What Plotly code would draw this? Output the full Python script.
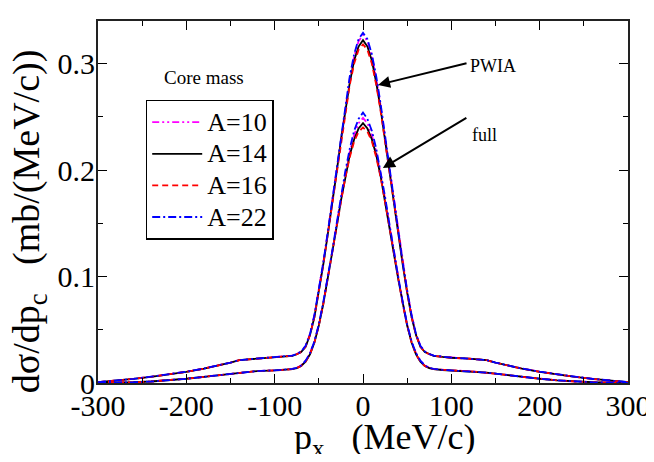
import plotly.graph_objects as go

# half-profile momentum grid (MeV/c), distribution is symmetric about 0
px_half = [0, 5, 10, 15, 20, 25, 30, 35, 40, 45, 50, 55, 60, 65, 70, 75, 80, 90,
           100, 120, 140, 150, 160, 180, 200, 220, 240, 260, 280, 300]

# PWIA curves (mb/(MeV/c))
pwia_A10 = [0.327, 0.321, 0.307, 0.286, 0.260, 0.231, 0.200, 0.170, 0.141, 0.113, 0.087, 0.064, 0.046, 0.035,
            0.0295, 0.0272, 0.0258, 0.0246, 0.0238, 0.0228, 0.0215, 0.0192, 0.0171, 0.0136, 0.0106, 0.0081,
            0.0059, 0.0039, 0.0021, 0.0008]
pwia_A14 = [0.322, 0.316, 0.303, 0.282, 0.257, 0.228, 0.197, 0.167, 0.139, 0.111, 0.085, 0.062, 0.045, 0.034,
            0.0290, 0.0270, 0.0255, 0.0245, 0.0237, 0.0228, 0.0215, 0.0191, 0.0170, 0.0135, 0.0105, 0.0080,
            0.0058, 0.0038, 0.0020, 0.0008]
pwia_A16 = [0.318, 0.313, 0.300, 0.280, 0.255, 0.227, 0.197, 0.167, 0.139, 0.111, 0.085, 0.062, 0.045, 0.034,
            0.0290, 0.0270, 0.0255, 0.0245, 0.0237, 0.0228, 0.0215, 0.0191, 0.0170, 0.0135, 0.0105, 0.0080,
            0.0058, 0.0038, 0.0020, 0.0008]
pwia_A22 = [0.329, 0.323, 0.309, 0.288, 0.262, 0.232, 0.201, 0.170, 0.141, 0.113, 0.087, 0.064, 0.046, 0.035,
            0.0295, 0.0272, 0.0258, 0.0246, 0.0238, 0.0228, 0.0215, 0.0192, 0.0171, 0.0136, 0.0106, 0.0081,
            0.0059, 0.0039, 0.0021, 0.0008]

# full calculation curves
full_A10 = [0.249, 0.244, 0.233, 0.217, 0.197, 0.173, 0.148, 0.122, 0.098, 0.075, 0.055, 0.039, 0.028, 0.021,
            0.0165, 0.0143, 0.0132, 0.0123, 0.0119, 0.0112, 0.0098, 0.0088, 0.0078, 0.0058, 0.0040, 0.0025,
            0.0014, 0.0007, 0.0003, 0.0001]
full_A14 = [0.244, 0.239, 0.229, 0.214, 0.194, 0.171, 0.146, 0.121, 0.097, 0.074, 0.054, 0.038, 0.027, 0.020,
            0.0160, 0.0140, 0.0130, 0.0122, 0.0118, 0.0112, 0.0098, 0.0088, 0.0078, 0.0058, 0.0040, 0.0025,
            0.0014, 0.0007, 0.0003, 0.0001]
full_A16 = [0.240, 0.236, 0.227, 0.212, 0.193, 0.170, 0.146, 0.121, 0.097, 0.074, 0.054, 0.038, 0.027, 0.020,
            0.0160, 0.0140, 0.0130, 0.0122, 0.0118, 0.0112, 0.0098, 0.0088, 0.0078, 0.0058, 0.0040, 0.0025,
            0.0014, 0.0007, 0.0003, 0.0001]
full_A22 = [0.254, 0.248, 0.237, 0.220, 0.199, 0.175, 0.149, 0.123, 0.099, 0.076, 0.055, 0.039, 0.028, 0.021,
            0.0165, 0.0143, 0.0132, 0.0123, 0.0119, 0.0112, 0.0098, 0.0088, 0.0078, 0.0058, 0.0040, 0.0025,
            0.0014, 0.0007, 0.0003, 0.0001]

labels = ["A=10", "A=14", "A=16", "A=22"]
x_ticks = [-300, -200, -100, 0, 100, 200, 300]
y_ticks = [0, 0.1, 0.2, 0.3]


def mirror(xs, ys):
    xf = [-v for v in xs[:0:-1]] + xs
    yf = ys[:0:-1] + ys
    return xf, yf


styles = [
    dict(color="#ff00ff", dash="7px,3px,2px,3px,2px,3px", width=1.8),
    dict(color="black", dash="solid", width=1.8),
    dict(color="#ff0000", dash="6px,4px", width=1.8),
    dict(color="#0000ff", dash="8px,3px,2px,3px", width=1.8),
]

fig = go.Figure()
for lab, st, pw, fu in zip(labels, styles,
                           [pwia_A10, pwia_A14, pwia_A16, pwia_A22],
                           [full_A10, full_A14, full_A16, full_A22]):
    xf, yf = mirror(px_half, pw)
    fig.add_trace(go.Scatter(x=xf, y=yf, mode="lines", line=st,
                             name='<span style="font-size:26px">%s</span>' % lab,
                             legendgroup=lab, showlegend=True))
    xf, yf = mirror(px_half, fu)
    fig.add_trace(go.Scatter(x=xf, y=yf, mode="lines", line=st, name=lab,
                             legendgroup=lab, showlegend=False))

font_family = "Liberation Serif, Times New Roman, serif"

# page has an 8px body margin: figure is sized to fit the 654x462 window
fig.update_layout(
    width=646, height=446,
    margin=dict(l=90, r=26, t=13, b=71, autoexpand=False),
    plot_bgcolor="white", paper_bgcolor="white",
    font=dict(family=font_family, color="black", size=30),
    showlegend=True,
    legend=dict(x=0.09, y=0.782, xanchor="left", yanchor="top",
                bordercolor="black", borderwidth=1.5, bgcolor="white",
                font=dict(size=22, family=font_family),
                tracegroupgap=0, itemwidth=50),
    xaxis=dict(range=[-300, 300], tickvals=x_ticks, ticktext=[str(v) for v in x_ticks],
               ticks="inside", ticklen=9, tickwidth=1.3, tickcolor="black",
               showline=True, linecolor="#222", linewidth=2, mirror="ticks",
               showgrid=False, zeroline=False, ticklabelstandoff=-5,
               ticklabeloverflow="allow", automargin=False,
               minor=dict(ticks="inside", ticklen=5, dtick=50, tickcolor="black", showgrid=False),
               tickfont=dict(size=30)),
    yaxis=dict(range=[0, 0.34], tickvals=y_ticks, ticktext=["0", "0.1", "0.2", "0.3"],
               ticks="inside", ticklen=9, tickwidth=1.3, tickcolor="black",
               showline=True, linecolor="#222", linewidth=2, mirror="ticks",
               showgrid=False, zeroline=False, ticklabelstandoff=-5,
               ticklabeloverflow="allow", automargin=False,
               minor=dict(ticks="inside", ticklen=5, dtick=0.05, tickcolor="black", showgrid=False),
               tickfont=dict(size=30)),
)

fig.add_annotation(xref="paper", yref="paper", x=0.541, y=-0.157, xanchor="center", yanchor="middle",
                   text="p<sub>x</sub>   (MeV/c)", showarrow=False, font=dict(size=36))
fig.add_annotation(xref="paper", yref="paper", x=-0.13, y=0.447, xanchor="center", yanchor="middle",
                   text="dσ/dp<sub>c</sub>   (mb/(MeV/c))", textangle=-90, showarrow=False,
                   font=dict(size=38))
fig.add_annotation(xref="paper", yref="paper", x=0.2, y=0.843, xanchor="center", yanchor="middle",
                   text="Core mass", showarrow=False, font=dict(size=19))
# labels
fig.add_annotation(x=119, y=0.298, xanchor="left", yanchor="middle", text="PWIA",
                   showarrow=False, font=dict(size=18))
fig.add_annotation(x=121, y=0.233, xanchor="left", yanchor="middle", text="full",
                   showarrow=False, font=dict(size=18))
# arrows
fig.add_annotation(x=17, y=0.280, ax=90, ay=-22, text="", showarrow=True,
                   arrowhead=2, arrowsize=1.2, arrowwidth=2, arrowcolor="black")
fig.add_annotation(x=22.5, y=0.202, ax=85, ay=-51, text="", showarrow=True,
                   arrowhead=2, arrowsize=1.2, arrowwidth=2, arrowcolor="black")

fig.write_html("out.html")
